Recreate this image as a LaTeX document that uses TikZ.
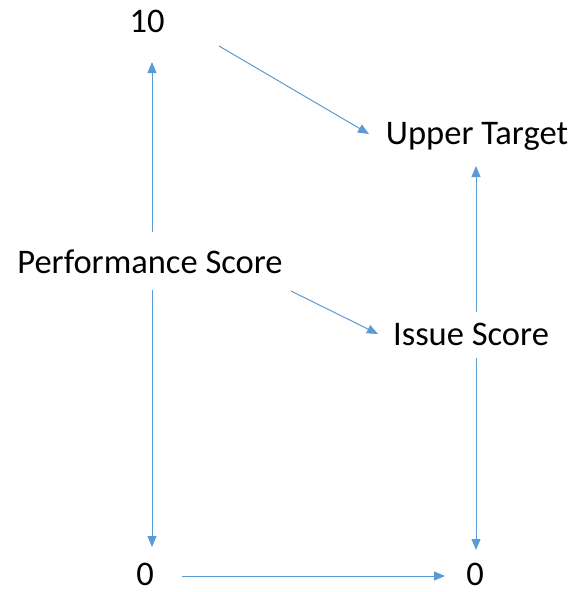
\documentclass[tikz,border=0pt]{standalone}
\usepackage{fontspec}
\setmainfont{Carlito}
\usetikzlibrary{arrows.meta}
\definecolor{arrblue}{HTML}{5B9BD5}
\tikzset{
  lbl/.style={inner sep=0pt, anchor=base, font=\fontsize{34.5}{40}\selectfont, text=black},
  arr/.style={draw=arrblue, line width=1pt, -{Triangle[length=11pt,width=9pt]}}
}
\begin{document}
\begin{tikzpicture}[x=1pt,y=-1pt]
\useasboundingbox (0,0) rectangle (576,592);
\node[lbl] (ten) at (147,32) {10};
\node[lbl] (ut) at (477,144) {Upper Target};
\node[lbl] (ps) at (150,273) {Performance Score};
\node[lbl] (is) at (471,345) {Issue Score};
\node[lbl] (z1) at (145,585) {0};
\node[lbl] (z2) at (475,585) {0};
\draw[arr] ([xshift=2pt,yshift=41pt]ps.base) -- ([xshift=5pt,yshift=-30pt]ten.base);
\draw[arr] ([xshift=72pt,yshift=-14pt]ten.base) -- ([xshift=-108pt,yshift=10pt]ut.base);
\draw[arr] ([xshift=141pt,yshift=-18pt]ps.base) -- ([xshift=-93pt,yshift=11pt]is.base);
\draw[arr] ([xshift=5pt,yshift=33pt]is.base) -- ([xshift=-1pt,yshift=-22pt]ut.base);
\draw[arr] ([xshift=2pt,yshift=-17pt]ps.base) -- ([xshift=7pt,yshift=38pt]z1.base);
\draw[arr] ([xshift=5pt,yshift=-13pt]is.base) -- ([xshift=1pt,yshift=35pt]z2.base);
\draw[arr] ([xshift=37pt,yshift=9pt]z1.base) -- ([xshift=-30pt,yshift=9pt]z2.base);
\end{tikzpicture}
\end{document}
